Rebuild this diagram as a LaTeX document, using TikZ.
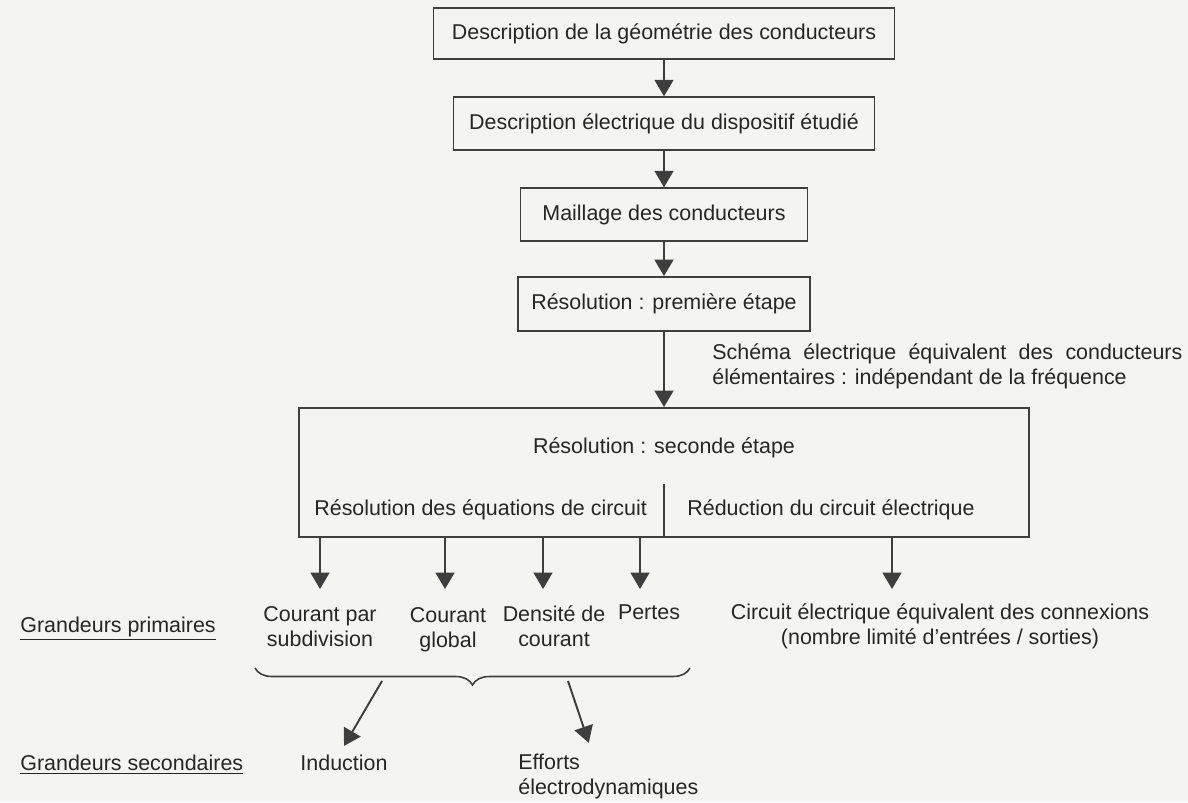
\documentclass[tikz,border=0pt]{standalone}
\usepackage{fontspec}
\setmainfont{Liberation Sans}
\usepackage{xcolor}
\usetikzlibrary{arrows.meta, decorations.pathreplacing}

\definecolor{ink}{RGB}{62,62,62}
\definecolor{paper}{RGB}{244,244,242}

\begin{document}
\begin{tikzpicture}[
            box/.style={
                    draw=ink,
                    line width=1.1pt,
                    minimum height=1.05cm,
                    inner sep=0pt,
                    align=center,
                    text=black!85,
                    font=\fontsize{12.2}{14}\selectfont
                },
            txt/.style={
                    align=center,
                    text=black!85,
                    font=\fontsize{12.2}{14}\selectfont
                },
            arrow/.style={
                    -{Triangle[length=0.33cm,width=0.38cm]},
                    draw=ink,
                    line width=1.1pt
                },
            curly/.style={
                    decorate,
                    decoration={brace, mirror, amplitude=0.34cm},
                    draw=ink,
                    line width=0.9pt
                }
        ]

        \fill[paper] (0,0) rectangle (23.76,16.04);


        \node[box, minimum width=9.22cm, minimum height=1.02cm] (geom) at (13.28,15.37)
        {Description de la géométrie des conducteurs};


        \node[box, minimum width=8.42cm] (elec) at (13.28,13.57)
        {Description électrique du dispositif étudié};


        \node[box, minimum width=5.74cm] (mesh) at (13.28,11.75)
        {Maillage des conducteurs};


        \node[box, minimum width=5.84cm, minimum height=1.08cm] (first) at (13.28,9.96)
        {Résolution : première étape};


        \node[txt, anchor=west, text width=9.4cm, align=justify, inner sep=0pt] (schema) at (14.24,8.71)
        {Schéma électrique équivalent des conducteurs élémentaires : indépendant de la fréquence};


        \node[box, minimum width=14.6cm, minimum height=2.58cm] (second) at (13.28,6.59) {};

        \node[txt, inner sep=0pt] (sectitle) at (13.28,7.08)
        {Résolution : seconde étape};

        \node[txt, anchor=west, inner sep=0pt] (solve) at (6.28,5.84)
        {Résolution des équations de circuit};

        \node[txt, anchor=west, inner sep=0pt] (reduce) at (13.74,5.84)
        {Réduction du circuit électrique};


        \coordinate (a1) at (6.40,4.26);
        \coordinate (a2) at (8.90,4.26);
        \coordinate (a3) at (10.86,4.26);
        \coordinate (a4) at (12.80,4.26);
        \coordinate (a5) at (17.84,4.26);


        \node[txt] (subdiv) at (6.40,3.51)
        {Courant par\\subdivision};

        \node[txt] (global) at (8.96,3.45)
        {Courant\\global};

        \node[txt] (density) at (11.08,3.51)
        {Densité de\\courant};

        \node[txt] (losses) at (12.98,3.80)
        {Pertes};

        \node[txt] (circuit) at (18.80,3.51)
        {Circuit électrique équivalent des connexions\\(nombre limité d’entrées / sorties)};


        \node[txt, anchor=west, inner sep=0pt] (primary) at (0.40,3.46)
        {\underline{Grandeurs primaires}};

        \node[txt, anchor=west, inner sep=0pt] (secondary) at (0.40,0.74)
        {\underline{Grandeurs secondaires}};


        \node[txt] (induct) at (6.88,0.78)
        {Induction};

        \node[txt, anchor=west, align=left, inner sep=0pt] (forces) at (10.36,0.51)
        {Efforts\\électrodynamiques};


        \coordinate (bl) at (5.10,2.68);
        \coordinate (br) at (13.80,2.68);
        \coordinate (b1) at (7.64,2.42);
        \coordinate (b2) at (11.36,2.42);


        \draw[arrow](geom)--(elec);
        \draw[arrow](elec)--(mesh);
        \draw[arrow](mesh)--(first);
        \draw[arrow](first)--(second);

        \draw[draw=ink, line width=1.1pt](second.south)--++(0,1.08);

        \draw[arrow](second.south -| a1)--(a1);
        \draw[arrow](second.south -| a2)--(a2);
        \draw[arrow](second.south -| a3)--(a3);
        \draw[arrow](second.south -| a4)--(a4);
        \draw[arrow](second.south -| a5)--(a5);

        \draw[curly](bl)--(br);

        \draw[arrow](b1)--([yshift=0.06cm]induct.north);
        \draw[arrow](b2)--([xshift=-0.39cm,yshift=0.22cm]forces.north);


    \end{tikzpicture}
\end{document}
